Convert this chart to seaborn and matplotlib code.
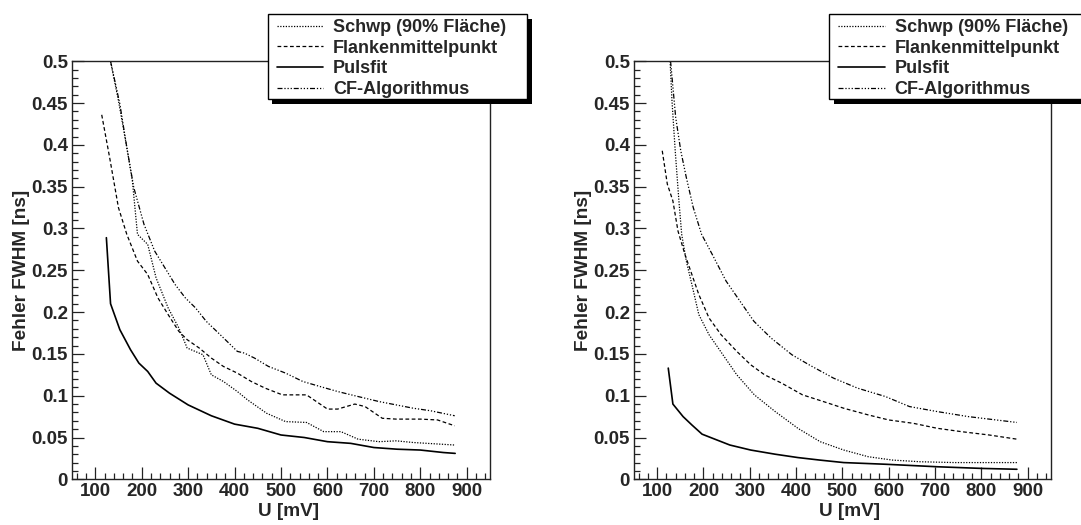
import matplotlib
matplotlib.use("Agg")
import matplotlib.pyplot as plt
import seaborn as sns
from matplotlib.ticker import MultipleLocator, FuncFormatter
from matplotlib.patches import Rectangle

# ---------------- data ----------------
labels = ["Schwp (90% Fläche)", "Flankenmittelpunkt", "Pulsfit", "CF-Algorithmus"]

# left panel
schwp_l_x = [133, 150, 168, 180, 191, 213, 231, 257, 280, 298, 332, 350, 376, 406, 428, 469, 510, 555, 592, 629, 666, 711, 748, 785, 874]
schwp_l_y = [0.50, 0.453, 0.397, 0.357, 0.293, 0.281, 0.241, 0.205, 0.181, 0.157, 0.149, 0.125, 0.117, 0.105, 0.095, 0.079, 0.069, 0.068, 0.057, 0.057, 0.048, 0.045, 0.046, 0.044, 0.041]
flank_l_x = [114, 131, 150, 168, 191, 213, 235, 257, 280, 298, 324, 350, 376, 406, 436, 466, 503, 555, 600, 622, 659, 681, 718, 748, 800, 837, 874]
flank_l_y = [0.436, 0.385, 0.325, 0.293, 0.261, 0.245, 0.217, 0.197, 0.177, 0.167, 0.157, 0.145, 0.135, 0.127, 0.117, 0.109, 0.101, 0.101, 0.084, 0.084, 0.090, 0.087, 0.073, 0.072, 0.072, 0.071, 0.064]
puls_l_x = [124, 133, 153, 176, 194, 213, 231, 260, 300, 350, 400, 450, 500, 550, 600, 650, 700, 750, 800, 850, 875]
puls_l_y = [0.289, 0.210, 0.179, 0.155, 0.139, 0.129, 0.115, 0.103, 0.089, 0.076, 0.066, 0.061, 0.053, 0.050, 0.045, 0.043, 0.038, 0.036, 0.035, 0.032, 0.031]
cf_l_x = [133, 153, 168, 183, 205, 228, 250, 272, 294, 316, 339, 369, 406, 421, 443, 473, 510, 547, 584, 622, 666, 711, 748, 785, 822, 874]
cf_l_y = [0.50, 0.449, 0.397, 0.349, 0.305, 0.273, 0.253, 0.233, 0.217, 0.205, 0.189, 0.173, 0.153, 0.151, 0.145, 0.135, 0.127, 0.117, 0.111, 0.105, 0.099, 0.093, 0.089, 0.085, 0.082, 0.076]

# right panel
schwp_r_x = [128, 132, 139, 147, 153, 163, 175, 190, 212, 242, 272, 310, 355, 404, 452, 503, 556, 608, 668, 743, 877]
schwp_r_y = [0.50, 0.453, 0.393, 0.333, 0.293, 0.261, 0.233, 0.197, 0.173, 0.149, 0.125, 0.101, 0.081, 0.061, 0.045, 0.035, 0.027, 0.023, 0.021, 0.020, 0.020]
flank_r_x = [111, 122, 134, 145, 160, 175, 190, 212, 238, 272, 302, 332, 369, 414, 459, 503, 556, 600, 653, 705, 757, 817, 877]
flank_r_y = [0.393, 0.353, 0.333, 0.297, 0.269, 0.245, 0.221, 0.193, 0.173, 0.153, 0.137, 0.125, 0.115, 0.101, 0.093, 0.085, 0.077, 0.071, 0.067, 0.061, 0.057, 0.053, 0.048]
puls_r_x = [124, 134, 156, 175, 197, 220, 257, 302, 355, 404, 451, 503, 593, 705, 802, 877]
puls_r_y = [0.133, 0.090, 0.075, 0.065, 0.054, 0.049, 0.041, 0.035, 0.030, 0.026, 0.023, 0.020, 0.018, 0.015, 0.013, 0.012]
cf_r_x = [129, 140, 151, 163, 178, 196, 219, 249, 279, 309, 346, 391, 428, 481, 533, 593, 645, 705, 772, 877]
cf_r_y = [0.50, 0.433, 0.393, 0.361, 0.325, 0.293, 0.269, 0.237, 0.213, 0.189, 0.169, 0.149, 0.137, 0.121, 0.109, 0.099, 0.087, 0.081, 0.075, 0.068]

x_label = "U [mV]"
y_label = "Fehler FWHM [ns]"

# ---------------- style ----------------
sns.set_theme(style="white")
plt.rcParams['font.family'] = ['Liberation Sans', 'DejaVu Sans']
plt.rcParams['font.weight'] = 'bold'
plt.rcParams['axes.labelweight'] = 'bold'

W, H = 1081, 525
fig = plt.figure(figsize=(W / 100, H / 100), dpi=100)
fig.patch.set_facecolor('white')


def px_box(x0, top, x1, bottom):
    return [x0 / W, 1 - bottom / H, (x1 - x0) / W, (bottom - top) / H]


line_styles = [
    dict(linestyle=(0, (1, 1.2)), linewidth=0.9),
    dict(linestyle=(0, (3, 2)), linewidth=0.9),
    dict(linestyle='-', linewidth=1.2),
    dict(linestyle=(0, (4, 1.5, 1, 1.5, 1, 1.5, 1, 1.5)), linewidth=0.9),
]

panels = [
    (px_box(72, 61.3, 490, 479.3),
     [(schwp_l_x, schwp_l_y), (flank_l_x, flank_l_y), (puls_l_x, puls_l_y), (cf_l_x, cf_l_y)],
     (267.5, 14, 527, 99)),
    (px_box(634, 61.3, 1050.7, 479.3),
     [(schwp_r_x, schwp_r_y), (flank_r_x, flank_r_y), (puls_r_x, puls_r_y), (cf_r_x, cf_r_y)],
     (829, 14, 1088.5, 99)),
]

for rect, series, (lx0, ltop, lx1, lbot) in panels:
    ax = fig.add_axes(rect)
    ax.set_facecolor('white')
    for (xs, ys), lab, st in zip(series, labels, line_styles):
        sns.lineplot(x=xs, y=ys, ax=ax, color='black', label=lab, legend=False, **st)
    if ax.get_legend() is not None:
        ax.get_legend().remove()

    ax.set_xlim(50, 950)
    ax.set_ylim(0, 0.5)
    ax.xaxis.set_major_locator(MultipleLocator(100))
    ax.xaxis.set_minor_locator(MultipleLocator(20))
    ax.yaxis.set_major_locator(MultipleLocator(0.05))
    ax.yaxis.set_minor_locator(MultipleLocator(0.01))
    ax.yaxis.set_major_formatter(FuncFormatter(lambda v, _: '0' if abs(v) < 1e-9 else f'{v:g}'))
    ax.tick_params(which='both', direction='in', top=False, right=False,
                   bottom=True, left=True, color='#222222', width=0.9)
    ax.tick_params(which='major', length=8.5, labelsize=13.5, pad=2.5)
    ax.tick_params(which='minor', length=4.3)
    ax.tick_params(axis='y', which='major', pad=3)
    for sp in ax.spines.values():
        sp.set_visible(True)
        sp.set_color('#222222')
        sp.set_linewidth(1.0)

    ax.set_xlabel(x_label, fontsize=13.7, fontweight='bold', labelpad=2.5)
    ax.set_ylabel(y_label, fontsize=13.7, fontweight='bold', labelpad=1)
    ax.xaxis.label.set_x(0.518)

    # legend box with solid shadow
    off = 4.5
    shadow = Rectangle(((lx0 + off) / W, 1 - (lbot + off) / H), (lx1 - lx0) / W, (lbot - ltop) / H,
                       transform=fig.transFigure, facecolor='black', edgecolor='black',
                       linewidth=0, zorder=10)
    frame = Rectangle((lx0 / W, 1 - lbot / H), (lx1 - lx0) / W, (lbot - ltop) / H,
                      transform=fig.transFigure, facecolor='white', edgecolor='black',
                      linewidth=1.0, zorder=11)
    fig.add_artist(shadow)
    fig.add_artist(frame)

    handles, labs = ax.get_legend_handles_labels()
    leg = fig.legend(handles, labs, loc='upper left',
                     bbox_to_anchor=((lx0 + 9.2) / W, 1 - (ltop + 5.0) / H),
                     frameon=False, borderpad=0, borderaxespad=0,
                     handlelength=2.58, handletextpad=0.55, labelspacing=0.2,
                     prop={'weight': 'bold', 'size': 13})
    leg.set_zorder(12)

fig.savefig('out.png', dpi=100)
